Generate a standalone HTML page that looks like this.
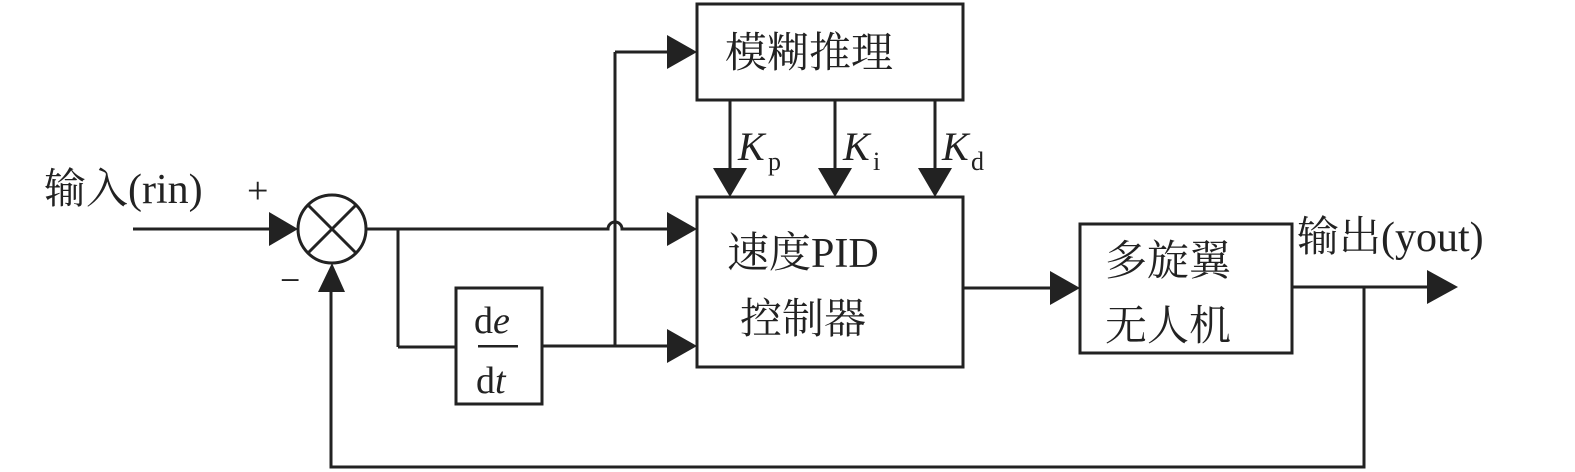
<!DOCTYPE html>
<html><head><meta charset="utf-8"><style>
html,body{margin:0;padding:0;background:#fff;width:1575px;height:472px;overflow:hidden}
svg{display:block}
text{font-family:"Liberation Serif","Noto Serif CJK SC",serif;fill:#222}
</style></head><body>
<svg width="1575" height="472" viewBox="0 0 1575 472" xmlns="http://www.w3.org/2000/svg">
<g stroke="#222" stroke-width="3" fill="none">
<rect x="697" y="4" width="266" height="96"/>
<rect x="697" y="197" width="266" height="170"/>
<rect x="1080" y="224" width="212" height="129"/>
<rect x="456" y="288" width="86" height="116"/>
<ellipse cx="332" cy="229" rx="34" ry="34"/>
<line x1="308" y1="205" x2="356" y2="253"/>
<line x1="356" y1="205" x2="308" y2="253"/>
<!-- input -->
<line x1="133" y1="229" x2="285" y2="229"/>
<!-- main line with hop -->
<path d="M366 229 H608 A7 7 0 0 1 622 229 H672"/>
<line x1="398" y1="229" x2="398" y2="347"/>
<line x1="398" y1="347" x2="456" y2="347"/>
<line x1="542" y1="346" x2="672" y2="346"/>
<line x1="615" y1="346" x2="615" y2="52"/>
<line x1="615" y1="52" x2="672" y2="52"/>
<line x1="730" y1="100" x2="730" y2="172"/>
<line x1="835" y1="100" x2="835" y2="172"/>
<line x1="935" y1="100" x2="935" y2="172"/>
<line x1="963" y1="288" x2="1055" y2="288"/>
<line x1="1292" y1="287" x2="1430" y2="287"/>
<path d="M1364 287 V467 H331 V290"/>
</g>
<g fill="#222">
<polygon points="269,212 298,229 269,246"/>
<polygon points="667,212 697,229 667,246"/>
<polygon points="667,329 697,346 667,363"/>
<polygon points="667,35 697,52 667,69"/>
<polygon points="713,168 747,168 730,197"/>
<polygon points="818,168 852,168 835,197"/>
<polygon points="918,168 952,168 935,197"/>
<polygon points="1050,271 1080,288 1050,305"/>
<polygon points="1427,270 1458,287 1427,304"/>
<polygon points="318,292 345,292 332,263"/>
</g>
<rect x="478" y="345" width="40" height="2.5" fill="#222"/>
<text x="44" y="203" font-size="42">输入(rin)</text>
<text x="247" y="203" font-size="38">+</text>
<text x="280" y="292" font-size="36">−</text>
<text x="725" y="67" font-size="42">模糊推理</text>
<text x="738" y="160" font-size="40" font-style="italic">K</text><text x="768" y="170" font-size="26">p</text>
<text x="843" y="160" font-size="40" font-style="italic">K</text><text x="873" y="170" font-size="26">i</text>
<text x="942" y="160" font-size="40" font-style="italic">K</text><text x="971" y="170" font-size="26">d</text>
<text x="727" y="267" font-size="42">速度PID</text>
<text x="740" y="333" font-size="42">控制器</text>
<text x="1105" y="275" font-size="42">多旋翼</text>
<text x="1105" y="340" font-size="42">无人机</text>
<text x="1297" y="251" font-size="42">输出(yout)</text>
<text x="474" y="333" font-size="38">d<tspan font-style="italic">e</tspan></text>
<text x="476" y="393" font-size="38">d<tspan font-style="italic">t</tspan></text>
</svg>
</body></html>
